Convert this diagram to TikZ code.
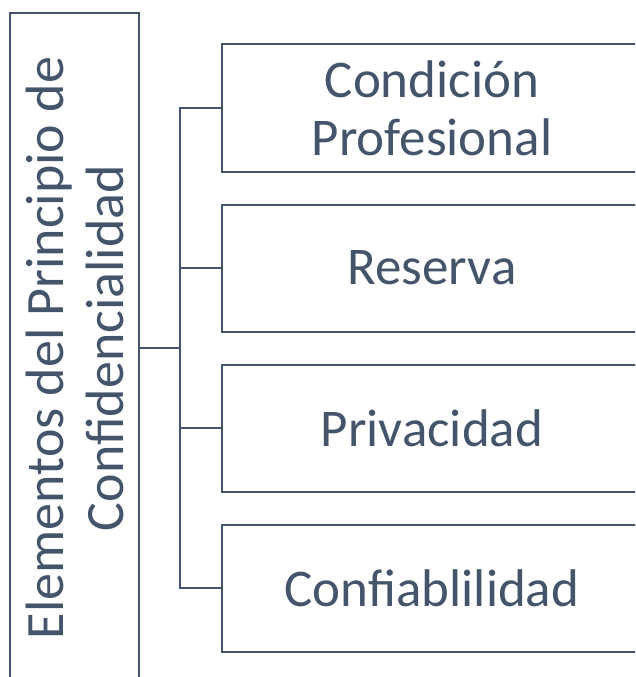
\documentclass[tikz,border=0pt]{standalone}
\usepackage{fontspec}
\setmainfont{Carlito}
\usetikzlibrary{positioning}
\definecolor{slate}{HTML}{44546A}
\tikzset{
  elem/.style={draw=slate, line width=2pt, minimum width=420pt, minimum height=127pt, align=center, text=slate, font=\fontsize{53}{58}\selectfont},
  title/.style={draw=slate, line width=2pt, minimum width=670pt, minimum height=129pt, align=center, text=slate, font=\fontsize{54}{60}\selectfont},
  link/.style={draw=slate, line width=2pt}
}

\begin{document}
\begin{tikzpicture}[x=1pt, y=-1pt]
\useasboundingbox (0,0) rectangle (635,677);
\clip (0,0) rectangle (635,677);
\node [title, rotate=90] (lhs) at (74.5,348) {Elementos del Principio de\\Confidencialidad};
\node [elem] (cond) at (432,108) {Condición\\Profesional};
\node [elem, below=31pt of cond] (res) {Reserva};
\node [elem, below=31pt of res] (priv) {Privacidad};
\node [elem, below=31pt of priv] (conf) {Confiablilidad};
\coordinate (bus) at (180,348);
\draw [link] (lhs.south) -- (bus);
\foreach \n in {cond,res,priv,conf} \draw [link] (bus) |- (\n.west);
\end{tikzpicture}
\end{document}
